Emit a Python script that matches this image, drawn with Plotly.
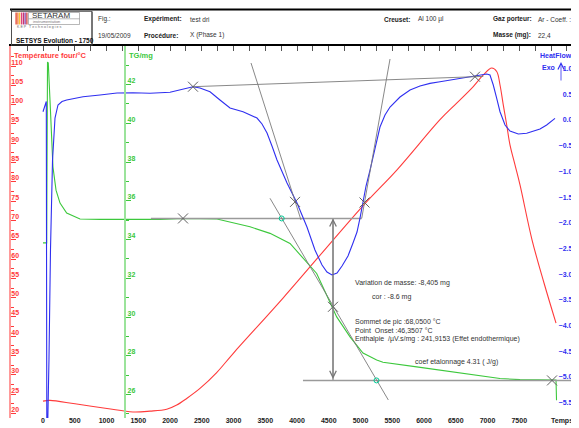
import plotly.graph_objects as go

# ---------------- data ----------------
# Furnace temperature (°C) vs time (s)
time_temp = [0, 110, 504, 1008, 1417, 1685, 1948, 2106, 2263, 2472, 2735, 2997,
             3780, 5039, 5575, 6252, 6515, 6776, 6934, 7066, 7145, 7197, 7249,
             7302, 7354, 7433, 7512, 7701, 7890, 8079]
temp = [23.2, 23.4, 22.5, 21.3, 20.4, 20.6, 21.1, 22.2, 23.9, 26.5, 30.6, 35.6,
        49.9, 73.8, 83.1, 96.1, 100.4, 104.7, 107.7, 109.5, 108.6, 105.1, 99.9,
        94.8, 89.6, 84.4, 79.2, 65.0, 53.8, 43.4]

# TG (mg) vs time (s)
time_tg = [0, 58, 71, 83, 110, 157, 205, 268, 373, 583, 898, 1843, 2205, 2740,
           3260, 3575, 3890, 4099, 4310, 4468, 4625, 4835, 5039, 5255, 5354,
           5885, 6409, 6929, 7197, 7512, 7984, 8079, 8087]
tg = [33.83, 33.83, 43.16, 43.11, 41.20, 37.74, 36.55, 35.88, 35.37, 35.06,
      35.04, 35.04, 35.09, 35.06, 34.66, 34.32, 33.80, 33.03, 32.25, 31.13,
      30.01, 28.98, 28.14, 27.78, 27.67, 27.43, 27.18, 26.92, 26.83, 26.77,
      26.75, 26.75, 25.71]

# Heat flow (µV) vs time (s)
time_hf = [0, 24, 52, 60, 76, 94, 118, 150, 189, 236, 299, 373, 630, 898, 1165,
           1417, 1685, 2000, 2236, 2362, 2472, 2630, 2787, 2945, 3150, 3370,
           3449, 3528, 3606, 3685, 3843, 4000, 4157, 4283, 4394, 4472, 4551,
           4630, 4709, 4803, 4882, 4945, 4992, 5039, 5087, 5150, 5228, 5307,
           5386, 5465, 5622, 5780, 5937, 6094, 6252, 6515, 6776, 6987, 7039,
           7091, 7145, 7197, 7276, 7354, 7485, 7617, 7827, 7932, 8063]
hf = [0.239, 0.350, 0.437, -5.75, -5.75, -4.59, -2.45, -0.70, 0.116, 0.370,
      0.437, 0.467, 0.531, 0.564, 0.603, 0.609, 0.597, 0.617, 0.681, 0.726,
      0.700, 0.628, 0.467, 0.311, 0.239, 0.116, 0.000, -0.176, -0.429,
      -0.701, -1.149, -1.538, -2.005, -2.453, -2.745, -2.881, -2.939, -2.900,
      -2.764, -2.570, -2.317, -2.102, -1.830, -1.538, -1.207, -0.896, -0.506,
      -0.059, 0.175, 0.330, 0.525, 0.662, 0.740, 0.791, 0.823, 0.875, 0.920,
      0.973, 0.953, 0.759, 0.500, 0.239, -0.020, -0.137, -0.195, -0.181,
      -0.098, -0.020, 0.110]

# construction lines on the heat-flow signal
hf_base_t = [2362, 6934]
hf_base_v = [0.726, 0.926]
hf_tan_left_t = [3276, 4063]
hf_tan_left_v = [1.187, -1.869]
hf_tan_right_t = [5465, 5019]
hf_tan_right_v = [1.265, -1.836]
hf_cross_t = [2362, 6803, 3969, 5063]
hf_cross_v = [0.726, 0.920, -1.516, -1.528]

# construction lines on the TG signal
tg_base_hi_t = [1700, 5019]
tg_base_hi_v = [35.09, 35.09]
tg_base_lo_t = [4094, 8700]
tg_base_lo_v = [26.73, 26.73]
tg_tan_t = [3575, 5438]
tg_tan_v = [36.13, 25.72]
tg_cross_t = [2205, 4567, 8016]
tg_cross_v = [35.09, 30.53, 26.73]
tg_circle_t = [3759, 5252]
tg_circle_v = [35.09, 26.73]
mass_arrow_t = 4567
mass_arrow_v = [35.09, 26.73]

x_ticks = [0, 500, 1000, 1500, 2000, 2500, 3000, 3500, 4000, 4500, 5000,
           5500, 6000, 6500, 7000, 7500]
temp_ticks = [20, 25, 30, 35, 40, 45, 50, 55, 60, 65, 70, 75, 80, 85, 90,
              95, 100, 105, 110]
tg_ticks = [26, 28, 30, 32, 34, 36, 38, 40, 42]
hf_ticks = [-5.5, -5.0, -4.5, -4.0, -3.5, -3.0, -2.5, -2.0, -1.5, -1.0,
            -0.5, 0.0, 0.5, 1.0]

# ---------------- figure ----------------
# the page body has an 8 px margin: lay out in reference pixels minus 8
OFF = 8
W, H = 579, 420
L, R, T, B = 3, 0, 38, 10
PW, PH = W - L - R, H - T - B

def xp(px):
    return (px - OFF - L) / PW

def yp(py):
    return (H - B - (py - OFF)) / PH

FONT = "Liberation Sans, Arial, sans-serif"
RED = "#ff3b3b"
GREEN = "#3cc83c"
BLUE = "#2f2ff0"
GRAY = "#7a7a7a"

fig = go.Figure()

fig.add_trace(go.Scatter(x=time_temp, y=temp, mode="lines", yaxis="y",
                         line=dict(color=RED, width=1.1), line_shape="spline",
                         showlegend=False))
fig.add_trace(go.Scatter(x=time_tg, y=tg, mode="lines", yaxis="y2",
                         line=dict(color=GREEN, width=1.1), showlegend=False))
fig.add_trace(go.Scatter(x=time_hf, y=hf, mode="lines", yaxis="y3",
                         line=dict(color=BLUE, width=1.1), showlegend=False))

# HF constructions
for tt, vv in [(hf_base_t, hf_base_v), (hf_tan_left_t, hf_tan_left_v),
               (hf_tan_right_t, hf_tan_right_v)]:
    fig.add_trace(go.Scatter(x=tt, y=vv, mode="lines", yaxis="y3",
                             line=dict(color=GRAY, width=0.9), showlegend=False))
fig.add_trace(go.Scatter(x=hf_cross_t, y=hf_cross_v, mode="markers", yaxis="y3",
                         marker=dict(symbol="x-thin", size=10,
                                     line=dict(color="#606060", width=1)),
                         showlegend=False))
# TG constructions
for tt, vv, w in [(tg_base_hi_t, tg_base_hi_v, 1.5), (tg_base_lo_t, tg_base_lo_v, 1.5),
                  (tg_tan_t, tg_tan_v, 0.9)]:
    fig.add_trace(go.Scatter(x=tt, y=vv, mode="lines", yaxis="y2",
                             line=dict(color=GRAY if w < 1 else "#9a9a9a", width=w),
                             showlegend=False))
fig.add_trace(go.Scatter(x=[mass_arrow_t, mass_arrow_t], y=mass_arrow_v,
                         mode="lines", yaxis="y2",
                         line=dict(color="#9a9a9a", width=1.5), showlegend=False))
fig.add_trace(go.Scatter(x=tg_cross_t, y=tg_cross_v, mode="markers", yaxis="y2",
                         marker=dict(symbol="x-thin", size=10,
                                     line=dict(color="#606060", width=1)),
                         showlegend=False))
fig.add_trace(go.Scatter(x=tg_circle_t, y=tg_circle_v, mode="markers", yaxis="y2",
                         marker=dict(symbol="circle-open", size=5,
                                     line=dict(color="#606060", width=1)),
                         showlegend=False))
# dummy traces for the top ruler axis and the bottom time-label axis
fig.add_trace(go.Scatter(x=[None], y=[None], xaxis="x2", yaxis="y", showlegend=False))
fig.add_trace(go.Scatter(x=[None], y=[None], xaxis="x3", yaxis="y4", showlegend=False))

xr = [(11 - 43) / 0.0635, (W + OFF - 43) / 0.0635]

fig.update_layout(
    width=W, height=H,
    margin=dict(l=L, r=R, t=T, b=B, pad=0),
    paper_bgcolor="white", plot_bgcolor="white",
    font=dict(family=FONT, size=7, color="black"),
    showlegend=False,
    xaxis=dict(domain=[0, 1], range=xr, showline=False, ticks="",
               showticklabels=False, showgrid=False, zeroline=False),
    xaxis2=dict(overlaying="x", side="top", range=xr, showline=True,
                linecolor="black", linewidth=2, ticks="inside", ticklen=5,
                tickcolor="#555", tickwidth=1, tick0=-500, dtick=250,
                showticklabels=False, showgrid=False, zeroline=False),
    xaxis3=dict(overlaying="x", anchor="y4", side="bottom", range=xr,
                showline=False, ticks="", tickvals=x_ticks, showgrid=False,
                zeroline=False, ticklabelstandoff=-3,
                tickfont=dict(family=FONT, size=7, color="#222", weight="bold")),
    yaxis4=dict(overlaying="y", visible=False, range=[0, 1]),
    yaxis=dict(range=[18.83, 115.2], showline=True, linecolor="#ff9a9a",
               linewidth=1.5, ticks="inside", ticklen=5, tickcolor=RED,
               tickvals=temp_ticks, ticklabelposition="inside",
               ticklabelstandoff=-6, ticklabelshift=-4,
               minor=dict(ticks="inside", ticklen=3, dtick=2.5, tick0=20,
                          tickcolor=RED),
               tickfont=dict(family=FONT, size=7, color=RED, weight="bold"),
               showgrid=False, zeroline=False),
    yaxis2=dict(overlaying="y", anchor="free", position=(125 - 11) / PW, side="left",
                range=[24.79, 43.99], showline=True, linecolor="#9be39b",
                linewidth=2, ticks="inside", ticklen=5, tickcolor=GREEN,
                tickvals=tg_ticks, ticklabelposition="inside",
                ticklabelstandoff=-5, ticklabelshift=-4,
                minor=dict(ticks="inside", ticklen=3, dtick=1, tick0=26,
                           tickcolor=GREEN),
                tickfont=dict(family=FONT, size=7, color=GREEN, weight="bold"),
                showgrid=False, zeroline=False),
    yaxis3=dict(overlaying="y", anchor="free", position=1, side="right",
                range=[-5.722, 1.518], showline=False, ticks="inside",
                ticklen=16, tickcolor=BLUE, tickvals=hf_ticks,
                tickformat=".1f", ticklabelposition="inside",
                ticklabelstandoff=-3, ticklabelshift=-4,
                tickfont=dict(family=FONT, size=7, color=BLUE, weight="bold"),
                showgrid=False, zeroline=False),
)

ann = []

def txt(x, y, s, color="black", size=7, bold=False, anchor="left"):
    ann.append(dict(x=xp(x), y=yp(y), xref="paper", yref="paper", text=s,
                    showarrow=False, xanchor=anchor, yanchor="middle",
                    font=dict(family=FONT, size=size, color=color,
                              weight="bold" if bold else "normal")))

# header
txt(96, 19, "Fig.:", "#333", 6.5)
txt(142, 19, "Expériment:", "#222", 6.5, True)
txt(188, 19, "test dri", "#333", 6.5)
txt(382, 19, "Creuset:", "#222", 6.5, True)
txt(416, 19, "Al 100 µl", "#333", 6.5)
txt(491, 19, "Gaz porteur:", "#222", 6.5, True)
txt(536, 19, "Ar - Coeff. : 1.4", "#333", 6.5)
txt(96, 35, "19/05/2009", "#333", 6.5)
txt(142, 35, "Procédure:", "#222", 6.5, True)
txt(188, 35, "X (Phase 1)", "#333", 6.5)
txt(491, 35, "Masse (mg):", "#222", 6.5, True)
txt(536, 35, "22,4", "#333", 6.5)
txt(14, 40, "SETSYS Evolution - 1750", "#111", 6.5, True)
txt(30, 15.5, "SETARAM", "#333", 8)
txt(31, 21.5, "instrumentation", "#777", 4)
txt(15, 27.5, "K E P   T e c h n o l o g i e s", "#666", 3.6)

# axis titles
txt(12, 56, "Température four/°C", RED, 7.5, True)
txt(127, 56, "TG/mg", GREEN, 7.5, True)
txt(538, 56, "HeatFlow/µV", BLUE, 7, True)
txt(540, 68, "Exo", BLUE, 7, True)
txt(549, 421, "Temps/s", "#222", 7, True)

# results text
txt(353, 283, "Variation de masse: -8,405 mg", "#333", 7)
txt(370, 297, "cor : -8.6 mg", "#333", 7)
txt(353, 322, "Sommet de pic :68,0500 °C", "#333", 7)
txt(353, 330.5, "Point  Onset :46,3507 °C", "#333", 7)
txt(353, 339, "Enthalpie  /µV.s/mg : 241,9153 (Effet endothermique)", "#333", 7)
txt(413, 362, "coef etalonnage 4.31 ( J/g)", "#333", 7)

# mass-change double arrow
ann.append(dict(x=mass_arrow_t, y=mass_arrow_v[0], xref="x", yref="y2",
                ax=mass_arrow_t, ay=mass_arrow_v[1], axref="x", ayref="y2",
                text="", showarrow=True, arrowhead=5, startarrowhead=5,
                arrowside="end+start", arrowsize=1.3, arrowwidth=1,
                arrowcolor="#777"))
# Exo arrow
ann.append(dict(x=xp(561), y=yp(62), xref="paper", yref="paper",
                ax=0, ay=20, axref="pixel", ayref="pixel",
                text="", showarrow=True, arrowhead=5, arrowsize=1.5,
                arrowwidth=0.8, arrowcolor=BLUE))
fig.update_layout(annotations=ann)

# header frame and logo (decoration)
shapes = [
    dict(type="line", xref="paper", yref="paper", x0=xp(10), x1=xp(590),
         y0=yp(9.5), y1=yp(9.5), line=dict(color="black", width=2)),
    dict(type="line", xref="paper", yref="paper", x0=xp(11.5), x1=xp(11.5),
         y0=yp(9.5), y1=yp(46), line=dict(color="#333", width=1)),
    dict(type="rect", xref="paper", yref="paper", x0=xp(11.5), x1=xp(92),
         y0=yp(45), y1=yp(11.5), line=dict(color="#555", width=0.8)),
    dict(type="line", xref="paper", yref="paper", x0=xp(92), x1=xp(92),
         y0=yp(11.5), y1=yp(46), line=dict(color="#333", width=1)),
    dict(type="rect", xref="paper", yref="paper", x0=xp(28.5), x1=xp(79.5),
         y0=yp(24.5), y1=yp(12.5), line=dict(color="#888", width=0.6)),
    dict(type="line", xref="paper", yref="paper", x0=xp(28.5), x1=xp(79.5),
         y0=yp(18.8), y1=yp(18.8), line=dict(color="#888", width=0.6)),
]
bar_cols = ["#e0301e", "#f07020", "#f8c020", "#e04080", "#c02060", "#8030a0", "#d03030"]
for i, c in enumerate(bar_cols):
    shapes.append(dict(type="rect", xref="paper", yref="paper",
                       x0=xp(15.5 + i * 1.8), x1=xp(16.7 + i * 1.8),
                       y0=yp(24.5), y1=yp(12.5), line=dict(width=0),
                       fillcolor=c))
fig.update_layout(shapes=shapes)

fig.write_html("out.html")
